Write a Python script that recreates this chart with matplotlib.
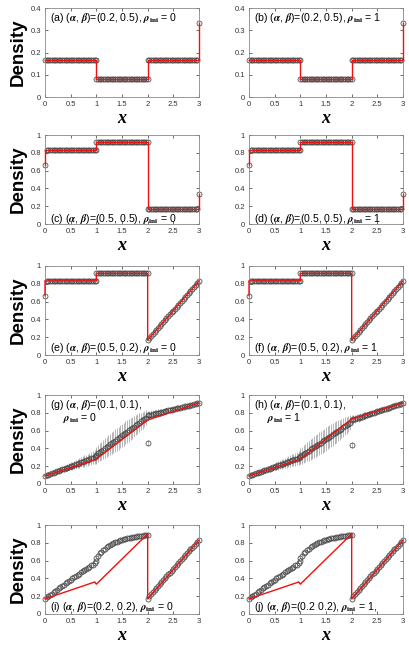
import numpy as np
import matplotlib
matplotlib.use('Agg')
import matplotlib.pyplot as plt

plt.rcParams['font.family'] = ['Liberation Sans', 'DejaVu Sans']
plt.rcParams['mathtext.fontset'] = 'stix'

# lattice sites: three segments of 31 sites each, end points shared at x=1 and x=2
x_sites = np.concatenate([np.linspace(0, 1, 31), np.linspace(1, 2, 31), np.linspace(2, 3, 31)])

# simulation densities (circles)
rho_ab = [
    0.167, 0.167, 0.167, 0.167, 0.167, 0.167, 0.167, 0.167, 0.167, 0.167, 0.167,
    0.167, 0.167, 0.167, 0.167, 0.167, 0.167, 0.167, 0.167, 0.167, 0.167,
    0.167, 0.167, 0.167, 0.167, 0.167, 0.167, 0.167, 0.167, 0.167, 0.167,
    0.083, 0.083, 0.083, 0.083, 0.083, 0.083, 0.083, 0.083, 0.083, 0.083, 0.083,
    0.083, 0.083, 0.083, 0.083, 0.083, 0.083, 0.083, 0.083, 0.083, 0.083,
    0.083, 0.083, 0.083, 0.083, 0.083, 0.083, 0.083, 0.083, 0.083, 0.083,
    0.167, 0.167, 0.167, 0.167, 0.167, 0.167, 0.167, 0.167, 0.167, 0.167, 0.167,
    0.167, 0.167, 0.167, 0.167, 0.167, 0.167, 0.167, 0.167, 0.167, 0.167,
    0.167, 0.167, 0.167, 0.167, 0.167, 0.167, 0.167, 0.167, 0.167, 0.333,
]
rho_cd = [
    0.667, 0.833, 0.833, 0.833, 0.833, 0.833, 0.833, 0.833, 0.833, 0.833, 0.833,
    0.833, 0.833, 0.833, 0.833, 0.833, 0.833, 0.833, 0.833, 0.833, 0.833,
    0.833, 0.833, 0.833, 0.833, 0.833, 0.833, 0.833, 0.833, 0.833, 0.833,
    0.917, 0.917, 0.917, 0.917, 0.917, 0.917, 0.917, 0.917, 0.917, 0.917, 0.917,
    0.917, 0.917, 0.917, 0.917, 0.917, 0.917, 0.917, 0.917, 0.917, 0.917,
    0.917, 0.917, 0.917, 0.917, 0.917, 0.917, 0.917, 0.917, 0.917, 0.917,
    0.167, 0.167, 0.167, 0.167, 0.167, 0.167, 0.167, 0.167, 0.167, 0.167, 0.167,
    0.167, 0.167, 0.167, 0.167, 0.167, 0.167, 0.167, 0.167, 0.167, 0.167,
    0.167, 0.167, 0.167, 0.167, 0.167, 0.167, 0.167, 0.167, 0.167, 0.333,
]
rho_ef = [
    0.667, 0.833, 0.833, 0.833, 0.833, 0.833, 0.833, 0.833, 0.833, 0.833, 0.833,
    0.833, 0.833, 0.833, 0.833, 0.833, 0.833, 0.833, 0.833, 0.833, 0.833,
    0.833, 0.833, 0.833, 0.833, 0.833, 0.833, 0.833, 0.833, 0.833, 0.833,
    0.917, 0.917, 0.917, 0.917, 0.917, 0.917, 0.917, 0.917, 0.917, 0.917, 0.917,
    0.917, 0.917, 0.917, 0.917, 0.917, 0.917, 0.917, 0.917, 0.917, 0.917,
    0.917, 0.917, 0.917, 0.917, 0.917, 0.917, 0.917, 0.917, 0.917, 0.917,
    0.167, 0.189, 0.211, 0.233, 0.256, 0.278, 0.300, 0.322, 0.344, 0.367, 0.389,
    0.411, 0.433, 0.456, 0.478, 0.500, 0.522, 0.544, 0.567, 0.589, 0.611,
    0.633, 0.656, 0.678, 0.700, 0.722, 0.744, 0.767, 0.789, 0.811, 0.833,
]
rho_g = [
    0.090, 0.097, 0.105, 0.112, 0.119, 0.127, 0.134, 0.141, 0.149, 0.156, 0.163,
    0.171, 0.178, 0.185, 0.193, 0.200, 0.207, 0.215, 0.222, 0.229, 0.237,
    0.244, 0.251, 0.259, 0.266, 0.273, 0.281, 0.288, 0.295, 0.303, 0.310,
    0.330, 0.344, 0.359, 0.373, 0.387, 0.402, 0.416, 0.430, 0.445, 0.459, 0.473,
    0.488, 0.502, 0.516, 0.531, 0.545, 0.559, 0.574, 0.588, 0.602, 0.617,
    0.631, 0.645, 0.660, 0.674, 0.688, 0.703, 0.717, 0.731, 0.746, 0.460,
    0.770, 0.775, 0.779, 0.784, 0.789, 0.793, 0.798, 0.803, 0.807, 0.812, 0.817,
    0.821, 0.826, 0.831, 0.835, 0.840, 0.845, 0.849, 0.854, 0.859, 0.863,
    0.868, 0.873, 0.877, 0.882, 0.887, 0.891, 0.896, 0.901, 0.905, 0.910,
]
rho_h = [
    0.090, 0.097, 0.104, 0.111, 0.118, 0.125, 0.132, 0.139, 0.146, 0.153, 0.160,
    0.167, 0.174, 0.181, 0.188, 0.195, 0.202, 0.209, 0.216, 0.223, 0.230,
    0.237, 0.244, 0.251, 0.258, 0.265, 0.272, 0.279, 0.286, 0.293, 0.300,
    0.310, 0.323, 0.336, 0.349, 0.362, 0.375, 0.388, 0.401, 0.414, 0.427, 0.440,
    0.453, 0.466, 0.479, 0.492, 0.505, 0.518, 0.531, 0.544, 0.557, 0.570,
    0.583, 0.596, 0.609, 0.622, 0.635, 0.648, 0.661, 0.674, 0.687, 0.440,
    0.720, 0.726, 0.733, 0.739, 0.745, 0.752, 0.758, 0.764, 0.771, 0.777, 0.783,
    0.790, 0.796, 0.802, 0.809, 0.815, 0.821, 0.828, 0.834, 0.840, 0.847,
    0.853, 0.859, 0.866, 0.872, 0.878, 0.885, 0.891, 0.897, 0.904, 0.910,
]
# standard deviations for (g) and (h)
err_gh = [
    0.005, 0.008, 0.010, 0.013, 0.015, 0.018, 0.020, 0.023, 0.025, 0.028, 0.030,
    0.033, 0.035, 0.038, 0.040, 0.043, 0.045, 0.048, 0.050, 0.053, 0.055,
    0.058, 0.060, 0.063, 0.065, 0.068, 0.070, 0.073, 0.075, 0.078, 0.080,
    0.090, 0.095, 0.100, 0.104, 0.108, 0.112, 0.115, 0.118, 0.121, 0.123, 0.125,
    0.127, 0.128, 0.129, 0.130, 0.130, 0.130, 0.129, 0.128, 0.126, 0.124,
    0.121, 0.118, 0.114, 0.110, 0.105, 0.100, 0.095, 0.090, 0.085, 0.030,
    0.050, 0.048, 0.047, 0.045, 0.044, 0.042, 0.041, 0.039, 0.038, 0.036, 0.034,
    0.033, 0.031, 0.030, 0.028, 0.026, 0.025, 0.023, 0.022, 0.020, 0.018,
    0.017, 0.015, 0.014, 0.012, 0.010, 0.009, 0.007, 0.006, 0.004, 0.003,
]
rho_ij = [
    0.170, 0.190, 0.203, 0.215, 0.230, 0.245, 0.260, 0.273, 0.287, 0.300, 0.315,
    0.330, 0.345, 0.358, 0.372, 0.387, 0.400, 0.414, 0.428, 0.441, 0.455,
    0.468, 0.482, 0.495, 0.508, 0.520, 0.533, 0.545, 0.556, 0.568, 0.590,
    0.625, 0.655, 0.680, 0.700, 0.718, 0.735, 0.750, 0.763, 0.775, 0.786, 0.796,
    0.805, 0.813, 0.821, 0.828, 0.834, 0.840, 0.845, 0.850, 0.855, 0.859,
    0.863, 0.867, 0.870, 0.873, 0.876, 0.879, 0.882, 0.885, 0.887, 0.890,
    0.170, 0.207, 0.229, 0.250, 0.272, 0.293, 0.315, 0.337, 0.358, 0.380, 0.401,
    0.423, 0.444, 0.466, 0.488, 0.509, 0.531, 0.552, 0.574, 0.596, 0.617,
    0.639, 0.660, 0.682, 0.704, 0.725, 0.747, 0.768, 0.790, 0.811, 0.833,
]

# theory (red lines)
th_ab_x = [0, 1, 1, 2, 2, 3, 3]
th_ab_y = [0.167, 0.167, 0.083, 0.083, 0.167, 0.167, 0.333]
th_cd_x = [0, 0, 1, 1, 2, 2, 3, 3]
th_cd_y = [0.667, 0.833, 0.833, 0.917, 0.917, 0.167, 0.167, 0.333]
th_ef_x = [0, 0, 1, 1, 2, 2, 3]
th_ef_y = [0.667, 0.833, 0.833, 0.917, 0.917, 0.167, 0.833]
th_g_x = [0, 1, 2, 3]
th_g_y = [0.09, 0.28, 0.72, 0.91]
th_h_x = [0, 1, 2, 3]
th_h_y = [0.09, 0.28, 0.73, 0.91]
th_ij_x = [0, 0.97, 1.0, 2.0, 2.0, 3.0]
th_ij_y = [0.17, 0.36, 0.335, 0.90, 0.17, 0.83]

AB = r'($\boldsymbol{\alpha}$, $\boldsymbol{\beta}$)='
RHO = r'$\boldsymbol{\rho}_{\mathbf{ini}}$'

panels = [
    ('(a) ' + AB + '(0.2, 0.5), ' + RHO + ' = 0', None, rho_ab, None, th_ab_x, th_ab_y, 0.4, 'top'),
    ('(b) ' + AB + '(0.2, 0.5), ' + RHO + ' = 1', None, rho_ab, None, th_ab_x, th_ab_y, 0.4, 'top'),
    ('(c) ' + AB + '(0.5, 0.5), ' + RHO + ' = 0', None, rho_cd, None, th_cd_x, th_cd_y, 1.0, 'bottom'),
    ('(d) ' + AB + '(0.5, 0.5), ' + RHO + ' = 1', None, rho_cd, None, th_cd_x, th_cd_y, 1.0, 'bottom'),
    ('(e) ' + AB + '(0.5, 0.2), ' + RHO + ' = 0', None, rho_ef, None, th_ef_x, th_ef_y, 1.0, 'bottom'),
    ('(f) ' + AB + '(0.5, 0.2), ' + RHO + ' = 1', None, rho_ef, None, th_ef_x, th_ef_y, 1.0, 'bottom'),
    ('(g) ' + AB + '(0.1, 0.1),', RHO + ' = 0', rho_g, err_gh, th_g_x, th_g_y, 1.0, 'top'),
    ('(h) ' + AB + '(0.1, 0.1),', RHO + ' = 1', rho_h, err_gh, th_h_x, th_h_y, 1.0, 'top'),
    ('(i) ' + AB + '(0.2, 0.2), ' + RHO + ' = 0', None, rho_ij, None, th_ij_x, th_ij_y, 1.0, 'bottom'),
    ('(j) ' + AB + '(0.2 0.2), ' + RHO + ' = 1,', None, rho_ij, None, th_ij_x, th_ij_y, 1.0, 'bottom'),
]

fig = plt.figure(figsize=(4.09, 6.58), dpi=100)

row_bottoms = [97, 224, 355, 484, 614]
col_lefts = [45, 249]
W, H = 154, 89

for k, (lab1, lab2, rho, err, tx, ty, ymax, where) in enumerate(panels):
    r, c = divmod(k, 2)
    ax = fig.add_axes([col_lefts[c] / 409, 1 - row_bottoms[r] / 658, W / 409, H / 658])

    if err is not None:
        ax.errorbar(x_sites, rho, yerr=err, fmt='none', ecolor='#999999', elinewidth=0.5, capsize=0, zorder=1)
    ax.plot(x_sites, rho, ls='none', marker='o', ms=3.6, mfc='none', mec='#444444', mew=0.55,
            zorder=2, clip_on=False)
    ax.plot(tx, ty, color='#ee1111', lw=1.0, zorder=3, clip_on=False)

    ax.set_xlim(0, 3)
    ax.set_ylim(0, ymax)
    ax.set_xticks([0, 0.5, 1, 1.5, 2, 2.5, 3])
    ax.set_xticklabels(['0', '0.5', '1', '1.5', '2', '2.5', '3'])
    if ymax < 0.5:
        ax.set_yticks([0, 0.1, 0.2, 0.3, 0.4])
        ax.set_yticklabels(['0', '0.1', '0.2', '0.3', '0.4'])
    else:
        ax.set_yticks([0, 0.2, 0.4, 0.6, 0.8, 1])
        ax.set_yticklabels(['0', '0.2', '0.4', '0.6', '0.8', '1'])
    ax.tick_params(direction='in', length=2.5, width=0.5, labelsize=5.5, colors='#333333',
                   top=True, right=True, pad=3)
    for s in ax.spines.values():
        s.set_linewidth(0.6)
        s.set_color('#888888')

    ax.set_xlabel('x', family='Liberation Serif', style='italic', weight='bold', fontsize=13, labelpad=1)
    if c == 0:
        ax.set_ylabel('Density', fontsize=13.5, weight='bold', labelpad=2)
        ax.yaxis.set_label_coords(-0.12, 0.5)

    if where == 'top':
        ax.text(0.03, 0.885, lab1, transform=ax.transAxes, fontsize=7.6, va='center', ha='left')
        if lab2 is not None:
            ax.text(0.12, 0.74, lab2, transform=ax.transAxes, fontsize=7.6, va='center', ha='left')
    else:
        yy = {2: 0.06, 4: 0.075, 8: 0.08}.get(k - (k % 2), 0.07)
        ax.text(0.03, yy, lab1, transform=ax.transAxes, fontsize=7.6, va='center', ha='left')

fig.savefig('out.png', dpi=100)
